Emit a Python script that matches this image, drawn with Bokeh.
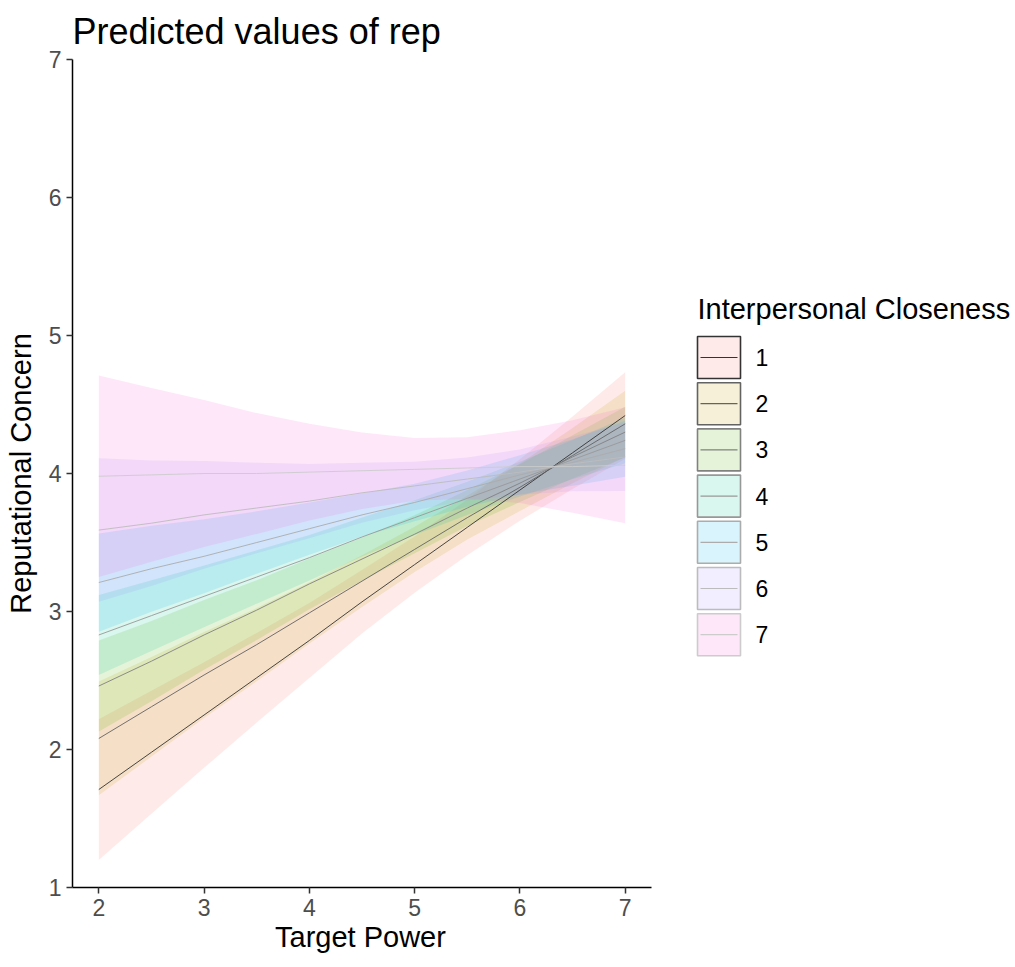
from bokeh.plotting import figure
from bokeh.models import Range1d, FixedTicker, Title
from bokeh.core.properties import value
from bokeh.embed import file_html
from bokeh.resources import INLINE

# Target power values at which the model predictions were evaluated
target_power = [2.0, 2.5, 3.0, 3.5, 4.0, 4.5, 5.0, 5.5, 6.0, 6.5, 7.0]

# Interpersonal closeness levels
closeness = ["1", "2", "3", "4", "5", "6", "7"]

# Predicted reputational concern and 95% confidence limits per closeness level
fit_c1 = [1.71, 1.98, 2.25, 2.52, 2.79, 3.07, 3.34, 3.61, 3.88, 4.15, 4.42]
low_c1 = [1.20, 1.535, 1.867, 2.195, 2.518, 2.84, 3.136, 3.408, 3.657, 3.887, 4.106]
high_c1 = [2.22, 2.425, 2.633, 2.845, 3.062, 3.30, 3.544, 3.812, 4.103, 4.413, 4.734]

fit_c2 = [2.08, 2.31, 2.54, 2.76, 2.99, 3.22, 3.45, 3.68, 3.90, 4.13, 4.36]
low_c2 = [1.668, 1.949, 2.229, 2.495, 2.768, 3.033, 3.286, 3.522, 3.728, 3.93, 4.121]
high_c2 = [2.492, 2.671, 2.851, 3.025, 3.212, 3.407, 3.614, 3.838, 4.072, 4.33, 4.599]

fit_c3 = [2.46, 2.64, 2.83, 3.01, 3.20, 3.38, 3.56, 3.75, 3.93, 4.12, 4.30]
low_c3 = [2.13, 2.349, 2.577, 2.793, 3.016, 3.223, 3.423, 3.62, 3.793, 3.963, 4.116]
high_c3 = [2.79, 2.931, 3.083, 3.227, 3.384, 3.537, 3.697, 3.88, 4.067, 4.277, 4.484]

fit_c4 = [2.83, 2.97, 3.11, 3.25, 3.39, 3.54, 3.68, 3.82, 3.96, 4.10, 4.24]
low_c4 = [2.54, 2.714, 2.886, 3.057, 3.225, 3.398, 3.554, 3.70, 3.834, 3.958, 4.075]
high_c4 = [3.12, 3.226, 3.334, 3.443, 3.555, 3.682, 3.806, 3.94, 4.086, 4.242, 4.405]

fit_c5 = [3.21, 3.31, 3.40, 3.50, 3.60, 3.70, 3.79, 3.89, 3.99, 4.08, 4.18]
low_c5 = [2.854, 2.999, 3.132, 3.274, 3.411, 3.543, 3.654, 3.759, 3.847, 3.911, 3.977]
high_c5 = [3.566, 3.621, 3.668, 3.726, 3.789, 3.857, 3.926, 4.021, 4.133, 4.249, 4.383]

fit_c6 = [3.59, 3.64, 3.70, 3.75, 3.80, 3.86, 3.91, 3.96, 4.01, 4.07, 4.12]
low_c6 = [3.07, 3.185, 3.31, 3.422, 3.531, 3.643, 3.734, 3.804, 3.846, 3.872, 3.873]
high_c6 = [4.11, 4.095, 4.09, 4.078, 4.069, 4.077, 4.086, 4.116, 4.174, 4.268, 4.367]

fit_c7 = [3.98, 3.99, 4.00, 4.00, 4.01, 4.02, 4.03, 4.04, 4.05, 4.05, 4.06]
low_c7 = [3.25, 3.36, 3.468, 3.562, 3.659, 3.743, 3.802, 3.817, 3.786, 3.715, 3.64]
high_c7 = [4.71, 4.62, 4.532, 4.438, 4.361, 4.297, 4.258, 4.263, 4.314, 4.385, 4.48]

x_ticks = [2, 3, 4, 5, 6, 7]
y_ticks = [1, 2, 3, 4, 5, 6, 7]

fits = [fit_c1, fit_c2, fit_c3, fit_c4, fit_c5, fit_c6, fit_c7]
lows = [low_c1, low_c2, low_c3, low_c4, low_c5, low_c6, low_c7]
highs = [high_c1, high_c2, high_c3, high_c4, high_c5, high_c6, high_c7]

ribbon_colors = ["#F8766D", "#C49A00", "#53B400", "#00C094", "#00B6EB", "#A58AFF", "#FB61D7"]
line_colors = ["#333333", "#636363", "#818181", "#989898", "#ACACAC", "#BCBCBC", "#CCCCCC"]

FONT = "Liberation Sans"

# Page geometry: the data panel spans 72..651 px across and 59..887 px down;
# the frame continues to the right edge so the legend can be drawn there
W, H = 1015, 967
PANEL_LEFT, PANEL_RIGHT = 72, 651
PANEL_TOP, PANEL_BOTTOM = 59, 887
X_LO, X_HI = 1.75, 7.25
Y_LO, Y_HI = 1, 7
px_per_unit = (PANEL_RIGHT - PANEL_LEFT) / (X_HI - X_LO)
py_per_unit = (PANEL_BOTTOM - PANEL_TOP) / (Y_HI - Y_LO)
x_view_end = X_LO + (W - PANEL_LEFT) / px_per_unit


def sx(px):
    """Horizontal page pixel -> x data coordinate."""
    return X_LO + (px - PANEL_LEFT) / px_per_unit


def sy(py):
    """Vertical page pixel -> y data coordinate."""
    return Y_LO + (PANEL_BOTTOM - py) / py_per_unit


p = figure(
    width=W, height=H,
    x_range=Range1d(X_LO, x_view_end), y_range=Range1d(Y_LO, Y_HI),
    output_backend="svg", toolbar_location=None,
    min_border_left=PANEL_LEFT, min_border_right=0,
    min_border_top=PANEL_TOP, min_border_bottom=H - PANEL_BOTTOM,
    title="Predicted values of rep",
)
p.outline_line_color = None
p.xgrid.visible = False
p.ygrid.visible = False
p.background_fill_color = "white"
p.border_fill_color = "white"

p.title.text_font = FONT
p.title.text_font_size = "36px"
p.title.text_font_style = "normal"
p.title.text_color = "black"
p.title.offset = 0
p.title.standoff = 16

for ax in (p.xaxis[0], p.yaxis[0]):
    ax.axis_line_color = "black"
    ax.axis_line_width = 1.5
    ax.major_tick_line_color = "#333333"
    ax.major_tick_line_width = 1.5
    ax.major_tick_out = 6
    ax.major_tick_in = 0
    ax.minor_tick_line_color = None
    ax.major_label_text_font = FONT
    ax.major_label_text_font_size = "23px"
    ax.major_label_text_color = "#4D4D4D"
    ax.axis_label_text_font = FONT
    ax.axis_label_text_font_size = "29px"
    ax.axis_label_text_font_style = "normal"
    ax.axis_label_text_color = "black"
    ax.major_label_standoff = 5

p.yaxis[0].axis_label_standoff = 9
p.xaxis[0].bounds = (X_LO, X_HI)
p.xaxis[0].ticker = FixedTicker(ticks=x_ticks)
p.yaxis[0].ticker = FixedTicker(ticks=y_ticks)
p.yaxis[0].axis_label = "Reputational Concern"

# x-axis title centred under the data panel rather than the whole frame
x_title_text = "Target Power"
x_title_width = 174
x_title = Title(text=x_title_text, align="left",
                offset=(PANEL_LEFT + PANEL_RIGHT) / 2 - PANEL_LEFT - x_title_width / 2,
                text_font=FONT, text_font_size="29px", text_font_style="normal",
                text_color="black", standoff=0)
p.add_layout(x_title, "below")

# Confidence ribbons first, then the predicted lines on top
for i in range(len(closeness)):
    p.varea(x=target_power, y1=lows[i], y2=highs[i],
            fill_color=ribbon_colors[i], fill_alpha=0.15)

for i in range(len(closeness)):
    p.line(x=target_power, y=fits[i], line_color=line_colors[i], line_width=0.9)

# Legend: title, then one shaded key per closeness level with its line through it
legend_title = "Interpersonal Closeness"
KEY_LEFT, KEY_W = 697, 43
KEY_TOP, KEY_H, KEY_PITCH = 336, 42, 46.2
LINE_INSET = 3
LABEL_LEFT = 755
TITLE_MIDDLE = 308

key_left, key_right, key_top, key_bottom = [], [], [], []
seg_x0, seg_x1, seg_y = [], [], []
label_x, label_y = [], []
for i in range(len(closeness)):
    top_px = KEY_TOP + i * KEY_PITCH
    mid_px = top_px + KEY_H / 2
    key_left.append(sx(KEY_LEFT))
    key_right.append(sx(KEY_LEFT + KEY_W))
    key_top.append(sy(top_px))
    key_bottom.append(sy(top_px + KEY_H))
    seg_x0.append(sx(KEY_LEFT + LINE_INSET))
    seg_x1.append(sx(KEY_LEFT + KEY_W - LINE_INSET))
    seg_y.append(sy(mid_px))
    label_x.append(sx(LABEL_LEFT))
    label_y.append(sy(mid_px))

p.quad(left=key_left, right=key_right, top=key_top, bottom=key_bottom,
       fill_color=ribbon_colors, fill_alpha=0.15,
       line_color=line_colors, line_width=1.6)
p.segment(x0=seg_x0, x1=seg_x1, y0=seg_y, y1=seg_y,
          line_color=line_colors, line_width=1.2)
p.text(x=label_x, y=label_y, text=closeness,
       text_font=value(FONT), text_font_size="23px", text_color="black",
       text_align="left", text_baseline="middle")
p.text(x=[sx(KEY_LEFT)], y=[sy(TITLE_MIDDLE)], text=[legend_title],
       text_font=value(FONT), text_font_size="29px", text_color="black",
       text_align="left", text_baseline="middle")

open("out.html", "w").write(file_html(p, INLINE))
